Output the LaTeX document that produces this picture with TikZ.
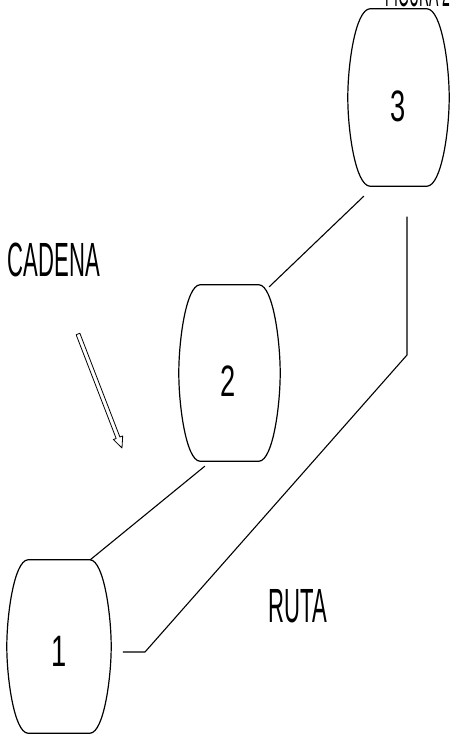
\documentclass[tikz,border=0pt]{standalone}
\usepackage{fontspec}
\setmainfont{Liberation Sans}
\usetikzlibrary{calc}
\tikzset{
  barrelbox/.style={draw=none,inner sep=0pt,minimum width=#1},
  lbl/.style={inner sep=0pt,font=\fontsize{48}{48}\selectfont,xscale=0.46},
  digit/.style={inner sep=0pt,font=\fontsize{44}{44}\selectfont,xscale=0.62},
  wire/.style={line width=1.1pt,line cap=round,line join=round},
  outline/.style={line width=1.2pt,line join=round}
}
\newcommand\drawbarrel[2]{% #1 node name, #2 inset
  \draw[outline]
    ($(#1.north west)+(#2,0)$) -- ($(#1.north east)+(-#2,0)$)
    .. controls ($(#1.north east)+(-0.35*#2,1)$) and ($(#1.north east)+(0,55)$) .. (#1.east)
    .. controls ($(#1.south east)+(0,-55)$) and ($(#1.south east)+(-0.35*#2,-1)$) .. ($(#1.south east)+(-#2,0)$)
    -- ($(#1.south west)+(#2,0)$)
    .. controls ($(#1.south west)+(0.35*#2,-1)$) and ($(#1.south west)+(0,-55)$) .. (#1.west)
    .. controls ($(#1.north west)+(0,55)$) and ($(#1.north west)+(0.35*#2,1)$) .. cycle;
}
\begin{document}
\begin{tikzpicture}[x=1pt,y=-1pt]
\useasboundingbox (0,0) rectangle (451,734);
% barrels
\node[barrelbox=101pt,minimum height=177pt] (b3) at (398.5,97.5) {};
\node[barrelbox=101pt,minimum height=176pt] (b2) at (229.5,373) {};
\node[barrelbox=104pt,minimum height=173pt] (b1) at (59,646.5) {};
\drawbarrel{b3}{22}
\drawbarrel{b2}{21}
\drawbarrel{b1}{21}
\node[digit] (n3) at (398,106) {3};
\node[digit] (n2) at (228,381) {2};
\node[digit] (n1) at (59,651) {1};
% labels
\node[lbl,anchor=base] (fig) at (418,6) {\fontsize{40}{40}\selectfont\scalebox{0.76}[1]{FIGURA 2}};
\node[lbl] (cad) at (54,260) {CADENA};
\node[lbl] (ruta) at (298,606) {RUTA};
% chain connectors
\coordinate (c3s) at ($(b3.south west)+(16,10)$);
\coordinate (c2e) at ($(b2.north east)+(-11,2)$);
\draw[wire] (c3s) -- (c2e);
\coordinate (c2s) at ($(b2.south west)+(26,5)$);
\coordinate (c1e) at ($(b1.north east)+(-21,0)$);
\draw[wire] (c2s) -- (c1e);
% route
\coordinate (r0) at (407,217);
\coordinate (r1) at (407,355);
\coordinate (r2) at (145,652);
\coordinate (r3) at ($(b1.east)+(12,5.5)$);
\draw[wire] (r0) -- (r1) -- (r2) -- (r3);
% hollow arrow
\draw[line width=0.8pt,line join=round]
  (79.87,333.28) -- (119.91,437.02) -- (122.7,435.94) -- (122,448)
  -- (113.38,439.54) -- (116.17,438.46) -- (76.13,334.72) -- cycle;
\end{tikzpicture}
\end{document}
